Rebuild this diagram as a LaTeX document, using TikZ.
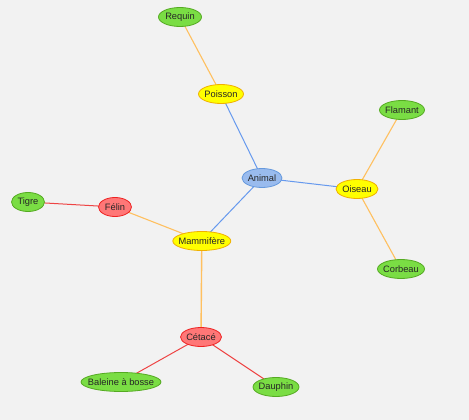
\documentclass[tikz,border=0pt]{standalone}
\usepackage{fontspec}
\setmainfont{Liberation Sans}
\usetikzlibrary{shapes.geometric,backgrounds}
\definecolor{bg}{HTML}{F2F2F2}
\definecolor{gfill}{HTML}{7ADD44}
\definecolor{gdraw}{HTML}{55AA22}
\definecolor{yfill}{HTML}{FFFF00}
\definecolor{ydraw}{HTML}{F0B000}
\definecolor{bfill}{HTML}{99BBEE}
\definecolor{bdraw}{HTML}{6699DD}
\definecolor{rfill}{HTML}{FF7777}
\definecolor{rdraw}{HTML}{EE2222}
\definecolor{eorange}{HTML}{FFC060}
\definecolor{eblue}{HTML}{6699EE}
\definecolor{ered}{HTML}{EE4444}
\tikzset{
  nd/.style={ellipse,inner sep=0pt,minimum height=19pt,line width=0.8pt,
    label={[font=\fontsize{9.3}{10}\selectfont,text=black!85,inner sep=0pt]center:#1}},
  gn/.style={nd=#1,fill=gfill,draw=gdraw},
  yn/.style={nd=#1,fill=yfill,draw=ydraw},
  bn/.style={nd=#1,fill=bfill,draw=bdraw},
  rn/.style={nd=#1,fill=rfill,draw=rdraw},
  eo/.style={draw=eorange,line width=1.1pt},
  eb/.style={draw=eblue,line width=1pt},
  er/.style={draw=ered,line width=1pt},
}
\begin{document}
\begin{tikzpicture}[x=1pt,y=-1pt]
\useasboundingbox (0,0) rectangle (469,420);
\node[gn=Requin,minimum width=43pt] (requin) at (180,17) {};
\node[yn=Poisson,minimum width=45pt] (poisson) at (221,94) {};
\node[bn=Animal,minimum width=40pt] (animal) at (262,178) {};
\node[yn=Oiseau,minimum width=42pt] (oiseau) at (357,189) {};
\node[gn=Flamant,minimum width=45pt] (flamant) at (402,110) {};
\node[gn=Corbeau,minimum width=47pt] (corbeau) at (401,269) {};
\node[rn=Félin,minimum width=33pt] (felin) at (115,207) {};
\node[gn=Tigre,minimum width=33pt] (tigre) at (28,202) {};
\node[yn=Mammifère,minimum width=58pt] (mammifere) at (201.8,241) {};
\node[rn=Cétacé,minimum width=41pt] (cetace) at (201,337) {};
\node[gn=Baleine à bosse,minimum width=80pt] (baleine) at (121,382) {};
\node[gn=Dauphin,minimum width=46pt] (dauphin) at (276,387) {};
\begin{scope}[on background layer]
\fill[bg] (0,0) rectangle (469,420);
\draw[eo] (requin.center) -- (poisson.center);
\draw[eb] (poisson.center) -- (animal.center);
\draw[eb] (animal.center) -- (oiseau.center);
\draw[eb] (animal.center) -- (mammifere.center);
\draw[eo] (oiseau.center) -- (flamant.center);
\draw[eo] (oiseau.center) -- (corbeau.center);
\draw[eo] (mammifere.center) -- (felin.center);
\draw[er] (felin.center) -- (tigre.center);
\draw[eo,line width=1.4pt] (mammifere.center) -- (cetace.center);
\draw[er] (cetace.center) -- (baleine.center);
\draw[er] (cetace.center) -- (dauphin.center);
\end{scope}
\end{tikzpicture}
\end{document}
